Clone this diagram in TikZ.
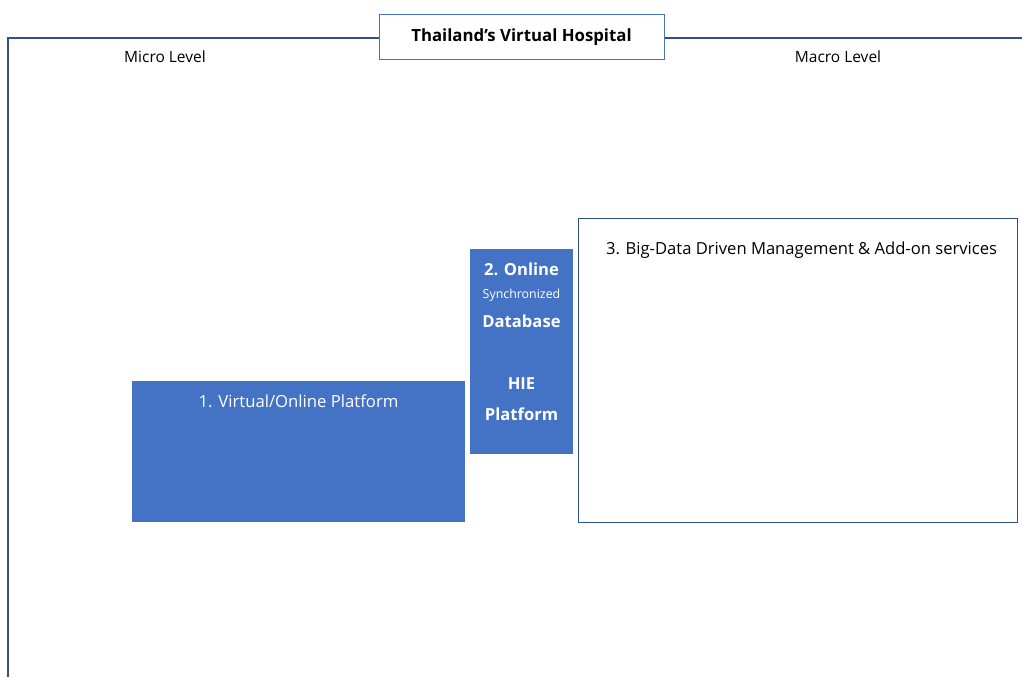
\documentclass[tikz,border=0pt]{standalone}
\usepackage{fontspec}
\setmainfont{Open Sans}
\definecolor{boxblue}{HTML}{4472C4}
\definecolor{frameblue}{HTML}{2F528F}
\begin{document}
\begin{tikzpicture}[x=1pt,y=-1pt,
  solidbox/.style={fill=boxblue,draw=none},
  outlinebox/.style={draw=frameblue,line width=1.2pt,fill=white},
  titlebox/.style={draw=boxblue,line width=1pt,fill=white,minimum width=285pt,minimum height=45pt,inner sep=0pt},
  whitetext/.style={text=white,inner sep=0pt},
  darktext/.style={text=black,inner sep=0pt},
  frame/.style={draw=frameblue,line width=1.2pt}
]
\useasboundingbox (0,0) rectangle (1022,677);

% outer frame with the title on its top edge
\node[titlebox,font=\fontsize{16.8}{19}\selectfont\bfseries] (title) at (521.5,37.5) {Thailand’s Virtual Hospital};
\coordinate (frameBL) at (8,677);
\coordinate (frameTL) at (8,38);
\coordinate (frameTR) at (1022,38);
\draw[frame] (frameBL) -- (frameTL) -- (title.west |- frameTL);
\draw[frame] (title.east |- frameTR) -- (frameTR);

\node[darktext,font=\fontsize{15.5}{17}\selectfont] (micro) at (165,57) {Micro Level};
\node[darktext,font=\fontsize{15.5}{17}\selectfont] (macro) at (838,57) {Macro Level};

% 1. platform block
\path[solidbox] (132,381) rectangle (465,522);
\node[whitetext,font=\fontsize{16.7}{19}\selectfont] (p1) at (298.5,401) {1. Virtual/Online Platform};

% 2. database block
\path[solidbox] (470,249) rectangle (573,454);
\node[whitetext,font=\fontsize{16.6}{19}\selectfont\bfseries] (p2a) at (521.5,269) {2. Online};
\node[whitetext,font=\fontsize{12.4}{14}\selectfont] (p2b) at (521.5,295) {Synchronized};
\node[whitetext,font=\fontsize{16.6}{19}\selectfont\bfseries] (p2c) at (521.5,321) {Database};
\node[whitetext,font=\fontsize{16.6}{19}\selectfont\bfseries] (p2d) at (521.5,384) {HIE};
\node[whitetext,font=\fontsize{16.6}{19}\selectfont\bfseries] (p2e) at (521.5,414) {Platform};

% 3. management block
\path[outlinebox] (578.5,218.5) rectangle (1017.5,522.5);
\node[darktext,font=\fontsize{16.6}{19}\selectfont] (p3) at (801.5,250) {3. Big-Data Driven Management \& Add-on services};
\end{tikzpicture}
\end{document}
